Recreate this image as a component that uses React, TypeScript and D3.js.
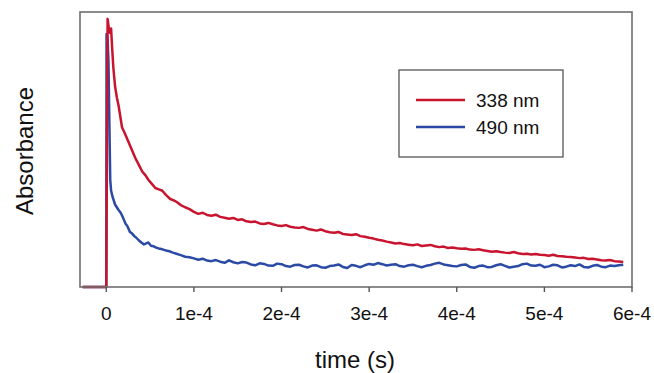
import React, { useRef, useEffect } from "react";
import * as d3 from "d3";

// [time in microseconds, absorbance (arb. units 0..1)]
const red338 = [
  [-27, 0], [0, 0], [1.5, 0.975], [2.5, 0.95], [3.5, 0.925], [4.5, 0.93], [5.5, 0.94], [6.5, 0.88], [8, 0.8], [10, 0.73],
  [12, 0.69], [14, 0.66], [16, 0.62], [18, 0.58], [21, 0.56], [25, 0.53], [29, 0.5], [33, 0.47], [37, 0.445], [41, 0.42],
  [45, 0.405], [48, 0.39], [52, 0.375], [56, 0.36], [60, 0.355], [64, 0.35], [68, 0.335], [73, 0.32], [77, 0.315], [80, 0.31],
  [85, 0.298], [90, 0.29], [95, 0.283],
  [100, 0.273], [105, 0.266], [110, 0.27], [115, 0.262], [120, 0.259], [125, 0.263], [130, 0.255], [135, 0.252], [140, 0.248], [145, 0.251],
  [150, 0.244], [155, 0.246], [160, 0.239], [165, 0.236], [170, 0.238], [175, 0.231], [180, 0.229], [185, 0.233], [190, 0.228], [195, 0.224],
  [200, 0.222], [205, 0.225], [210, 0.219], [215, 0.216], [220, 0.215], [225, 0.218], [230, 0.211], [235, 0.208], [240, 0.205], [245, 0.209],
  [250, 0.203], [255, 0.199], [260, 0.197], [265, 0.2], [270, 0.193], [275, 0.191], [280, 0.189], [285, 0.192], [290, 0.185], [295, 0.183],
  [300, 0.179], [305, 0.176], [310, 0.172], [315, 0.169], [320, 0.165], [325, 0.162], [330, 0.158], [335, 0.16], [340, 0.156], [345, 0.154],
  [350, 0.152], [355, 0.155], [360, 0.149], [365, 0.151], [370, 0.153], [375, 0.148], [380, 0.145], [385, 0.147], [390, 0.142], [395, 0.144],
  [400, 0.141], [405, 0.139], [410, 0.14], [415, 0.136], [420, 0.135], [425, 0.137], [430, 0.134], [435, 0.131], [440, 0.128], [445, 0.13],
  [450, 0.127], [455, 0.125], [460, 0.124], [465, 0.127], [470, 0.123], [475, 0.12], [480, 0.121], [485, 0.118], [490, 0.12], [495, 0.117],
  [500, 0.116], [505, 0.114], [510, 0.117], [515, 0.113], [520, 0.112], [525, 0.11], [530, 0.109], [535, 0.107], [540, 0.105], [545, 0.106],
  [550, 0.102], [555, 0.103], [560, 0.1], [565, 0.097], [570, 0.096], [575, 0.098], [580, 0.094], [585, 0.093], [590, 0.091],
];

const blue490 = [
  [-27, 0], [0, 0], [0.3, 0.92], [1.5, 0.9], [2.5, 0.82], [3.5, 0.6], [4.5, 0.39], [5.5, 0.35], [7, 0.33], [8.5, 0.315],
  [10, 0.3], [12, 0.29], [14, 0.28], [16, 0.272], [18, 0.26], [20, 0.245], [22, 0.23], [24, 0.222], [27, 0.2], [29, 0.196],
  [32, 0.185], [34, 0.18], [37, 0.17], [40, 0.162], [43, 0.155], [45, 0.158], [48, 0.162], [51, 0.15], [54, 0.148], [57, 0.143],
  [60, 0.14], [64, 0.137], [68, 0.133], [72, 0.13], [76, 0.125], [80, 0.121], [85, 0.116], [90, 0.11], [95, 0.108],
  [100, 0.104], [105, 0.099], [110, 0.103], [115, 0.096], [120, 0.094], [125, 0.098], [130, 0.092], [135, 0.088], [140, 0.097], [145, 0.09],
  [150, 0.086], [155, 0.091], [160, 0.089], [165, 0.082], [170, 0.079], [175, 0.086], [180, 0.084], [185, 0.078], [190, 0.077], [195, 0.085],
  [200, 0.083], [205, 0.076], [210, 0.074], [215, 0.08], [220, 0.081], [225, 0.075], [230, 0.071], [235, 0.078], [240, 0.079], [245, 0.072],
  [250, 0.07], [255, 0.076], [260, 0.078], [265, 0.082], [270, 0.073], [275, 0.069], [280, 0.08], [285, 0.077], [290, 0.072], [295, 0.079],
  [300, 0.084], [305, 0.081], [310, 0.087], [315, 0.083], [320, 0.078], [325, 0.081], [330, 0.083], [335, 0.076], [340, 0.074], [345, 0.079],
  [350, 0.081], [355, 0.076], [360, 0.072], [365, 0.077], [370, 0.08], [375, 0.085], [380, 0.088], [385, 0.082], [390, 0.079], [395, 0.076],
  [400, 0.075], [405, 0.08], [410, 0.082], [415, 0.073], [420, 0.07], [425, 0.076], [430, 0.078], [435, 0.072], [440, 0.073], [445, 0.079],
  [450, 0.083], [455, 0.077], [460, 0.071], [465, 0.074], [470, 0.076], [475, 0.083], [480, 0.085], [485, 0.078], [490, 0.077], [495, 0.081],
  [500, 0.072], [505, 0.075], [510, 0.081], [515, 0.079], [520, 0.071], [525, 0.074], [530, 0.079], [535, 0.076], [540, 0.082], [545, 0.073],
  [550, 0.071], [555, 0.077], [560, 0.08], [565, 0.074], [570, 0.072], [575, 0.078], [580, 0.076], [585, 0.079], [590, 0.081],
];

const tickValues = [0, 1e-4, 2e-4, 3e-4, 4e-4, 5e-4, 6e-4];
const tickLabels = ["0", "1e-4", "2e-4", "3e-4", "4e-4", "5e-4", "6e-4"];

const series = [
  { name: "338 nm", color: "#c8142f", data: red338 },
  { name: "490 nm", color: "#2a4aa6", data: blue490 },
];

const App = () => {
  const svgRef = useRef(null);
  const width = 654;
  const height = 373;

  useEffect(() => {
    const svg = d3.select(svgRef.current);
    svg.selectAll("*").remove();

    const left = 80, right = 632, top = 12, bottom = 287;

    const x = d3.scaleLinear().domain([-0.3e-4, 6e-4]).range([left, right]);
    const y = d3.scaleLinear().domain([0, 1]).range([bottom, top]);

    const font = "'Liberation Sans', Arial, Helvetica, sans-serif";

    // blue first so red sits on top
    const line = d3.line()
      .x(d => x(d[0] * 1e-6))
      .y(d => y(d[1]));

    series.slice().reverse().forEach(s => {
      svg.append("path")
        .datum(s.data)
        .attr("d", line)
        .attr("fill", "none")
        .attr("stroke", s.color)
        .attr("stroke-width", 2.5)
        .attr("stroke-linejoin", "round");
    });

    // frame
    svg.append("rect")
      .attr("x", left)
      .attr("y", top)
      .attr("width", right - left)
      .attr("height", bottom - top)
      .attr("fill", "none")
      .attr("stroke", "#6e6e6e")
      .attr("stroke-width", 1.6);

    // x ticks
    svg.selectAll(".tick")
      .data(tickValues)
      .enter()
      .append("line")
      .attr("x1", d => x(d))
      .attr("x2", d => x(d))
      .attr("y1", bottom)
      .attr("y2", bottom + 5)
      .attr("stroke", "#555")
      .attr("stroke-width", 1.4);

    svg.selectAll(".tlabel")
      .data(tickValues)
      .enter()
      .append("text")
      .attr("x", d => x(d))
      .attr("y", 320)
      .attr("text-anchor", "middle")
      .style("font-family", font)
      .style("font-size", "19px")
      .attr("fill", "#111")
      .text((d, i) => tickLabels[i]);

    // axis titles
    svg.append("text")
      .attr("x", 355)
      .attr("y", 368)
      .attr("text-anchor", "middle")
      .style("font-family", font)
      .style("font-size", "24px")
      .attr("fill", "#111")
      .text("time (s)");

    svg.append("text")
      .attr("transform", "translate(33, 151) rotate(-90)")
      .attr("text-anchor", "middle")
      .style("font-family", font)
      .style("font-size", "24px")
      .attr("fill", "#111")
      .text("Absorbance");

    // legend
    const legend = svg.append("g");
    legend.append("rect")
      .attr("x", 399)
      .attr("y", 70)
      .attr("width", 164)
      .attr("height", 87)
      .attr("fill", "white")
      .attr("stroke", "#555")
      .attr("stroke-width", 1.3);

    series.forEach((s, i) => {
      const ly = 100 + i * 27;
      legend.append("line")
        .attr("x1", 416)
        .attr("x2", 465)
        .attr("y1", ly)
        .attr("y2", ly)
        .attr("stroke", s.color)
        .attr("stroke-width", 2.6);
      legend.append("text")
        .attr("x", 476)
        .attr("y", ly + 7)
        .style("font-family", font)
        .style("font-size", "19px")
        .attr("fill", "#111")
        .text(s.name);
    });
  }, []);

  return (
    <svg
      ref={svgRef}
      width={width}
      height={height}
      style={{ position: "absolute", left: 0, top: 0, background: "white" }}
    />
  );
};

export default App;
